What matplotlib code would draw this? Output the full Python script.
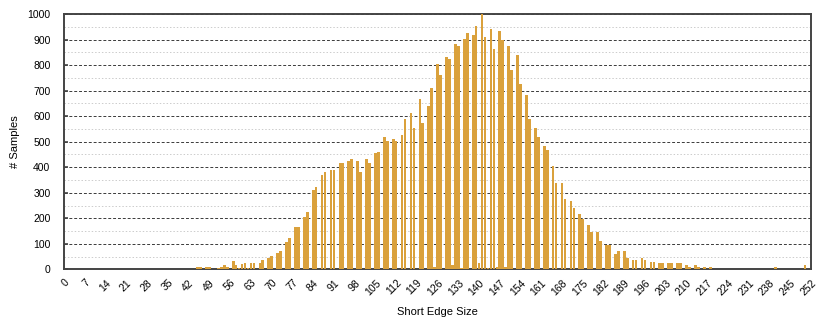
import matplotlib
matplotlib.use("Agg")
import matplotlib.pyplot as plt
from matplotlib.ticker import MultipleLocator

plt.rcParams['font.family'] = ['Liberation Sans', 'DejaVu Sans']

# Short edge size values (0..252) and sample counts per size
sizes = list(range(0, 253))
counts = [
    # 0-37
    0, 0, 0, 0, 0, 0, 0, 0, 0, 0,
    0, 0, 0, 0, 0, 0, 0, 0, 0, 0,
    0, 0, 0, 0, 0, 0, 0, 0, 0, 0,
    0, 0, 0, 0, 0, 0, 0, 0,
    # 38-49
    1, 0, 1, 2, 2, 3, 3, 9, 9, 2, 9, 9,
    # 50-59
    3, 2, 5, 10, 17, 9, 3, 31, 17, 5,
    # 60-69
    20, 25, 5, 23, 23, 3, 23, 36, 2, 43,
    # 70-79
    52, 2, 63, 73, 2, 108, 124, 2, 167, 167,
    # 80-89
    2, 204, 223, 2, 310, 324, 2, 368, 380, 2,
    # 90-99
    389, 389, 2, 415, 415, 2, 424, 432, 2, 424,
    # 100-109
    381, 2, 432, 415, 2, 454, 461, 2, 519, 502,
    # 110-119
    2, 510, 504, 2, 526, 589, 2, 611, 555, 2,
    # 120-129
    667, 574, 2, 640, 711, 8, 804, 761, 3, 833,
    # 130-139
    826, 15, 882, 876, 4, 902, 927, 3, 918, 954,
    # 140-149
    23, 1000, 911, 4, 940, 862, 10, 933, 898, 10,
    # 150-159
    876, 783, 3, 839, 726, 3, 683, 589, 2, 555,
    # 160-169
    518, 2, 483, 467, 2, 405, 338, 2, 339, 274,
    # 170-179
    2, 268, 239, 2, 217, 196, 2, 174, 147, 2,
    # 180-189
    146, 111, 2, 95, 95, 2, 60, 73, 2, 73,
    # 190-199
    46, 2, 37, 37, 2, 46, 37, 2, 29, 29,
    # 200-209
    2, 23, 23, 2, 23, 23, 2, 23, 23, 2,
    # 210-219
    16, 9, 1, 16, 9, 1, 9, 1, 9, 1,
    # 220-229
    1, 0, 1, 1, 2, 1, 2, 1, 2, 2,
    # 230-239
    1, 2, 2, 1, 2, 1, 0, 1, 0, 2,
    # 240-249
    9, 1, 0, 0, 0, 0, 0, 0, 0, 0,
    # 250-252
    17, 0, 0,
]

x_ticks = list(range(0, 253, 7))
y_ticks = list(range(0, 1001, 100))

bar_color = '#DAA13C'
spine_color = '#444444'

fig = plt.figure(figsize=(8.3, 3.21), dpi=100)
ax = fig.add_axes([0.0775, 0.161, 0.8995, 0.795])

ax.bar(sizes, counts, width=0.9, color=bar_color, linewidth=0, zorder=3)

ax.set_xlim(0, 252)
ax.set_ylim(0, 1000)
ax.set_xticks(x_ticks)
ax.set_xticklabels([str(t) for t in x_ticks], rotation=45, ha='right',
                   rotation_mode='anchor', fontsize=7.5)
ax.set_yticks(y_ticks)
ax.set_yticklabels([str(t) for t in y_ticks], fontsize=7.5)
ax.yaxis.set_minor_locator(MultipleLocator(50))

ax.grid(axis='y', which='major', color='#3a3a3a', linestyle=(0, (3, 2)),
        linewidth=0.7, zorder=1)
ax.grid(axis='y', which='minor', color='#cccccc', linestyle=(0, (1.5, 2)),
        linewidth=0.7, zorder=1)
ax.set_axisbelow(True)

ax.tick_params(axis='x', length=0, pad=6)
ax.tick_params(axis='y', which='major', direction='in', length=3,
               width=1.2, color=spine_color, pad=10)
ax.tick_params(axis='y', which='minor', length=0)

for s in ax.spines.values():
    s.set_color(spine_color)
    s.set_linewidth(1.4)

ax.set_xlabel('Short Edge Size', fontsize=8, labelpad=7)
ax.set_ylabel('# Samples', fontsize=8, labelpad=5)

fig.savefig('out.png', dpi=100)
